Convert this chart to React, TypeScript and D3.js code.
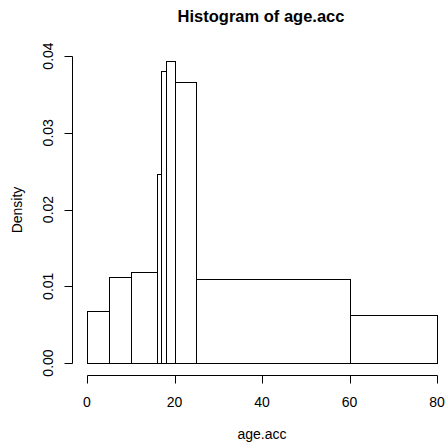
import React from "react";
import * as d3 from "d3";

const breaks = [0, 5, 10, 16, 17, 18, 20, 25, 60, 80];
const density = [0.0068, 0.0112, 0.0118, 0.0246, 0.0381, 0.0393, 0.0366, 0.011, 0.0062];
const xTicks = [0, 20, 40, 60, 80];
const yTicks = [0, 0.01, 0.02, 0.03, 0.04];
const yTickLabels = ["0.00", "0.01", "0.02", "0.03", "0.04"];
const title = "Histogram of age.acc";
const xLabel = "age.acc";
const yLabel = "Density";

export default function App() {
  const W = 445, H = 442;
  const x = d3.scaleLinear().domain([0, 80]).range([87, 437]);
  const y = d3.scaleLinear().domain([0, 0.04]).range([363, 56]);
  const font = "Liberation Sans, Arial, sans-serif";
  const bins = density.map((d, i) => ({ x0: breaks[i], x1: breaks[i + 1], d }));
  const axisY = 375.5;
  const axisX = 72.5;
  return (
    <svg width={W} height={H} style={{ position: "absolute", left: 0, top: 0, background: "#fff" }} fontFamily={font}>
      <rect width={W} height={H} fill="#fff" />
      <text x={261} y={22} textAnchor="middle" fontWeight="bold" fontSize={16.5} fill="#000">{title}</text>
      {bins.map((b, i) => (
        <rect key={i} x={Math.round(x(b.x0)) + 0.5} y={Math.round(y(b.d)) + 0.5}
          width={Math.round(x(b.x1)) - Math.round(x(b.x0))}
          height={Math.round(y(0)) - Math.round(y(b.d))}
          fill="none" stroke="#000" strokeWidth={1} />
      ))}
      <line x1={Math.round(x(0)) + 0.5} x2={Math.round(x(80)) + 0.5} y1={axisY} y2={axisY} stroke="#000" />
      {xTicks.map((t) => (
        <g key={t}>
          <line x1={Math.round(x(t)) + 0.5} x2={Math.round(x(t)) + 0.5} y1={axisY} y2={axisY + 8} stroke="#000" />
          <text x={x(t)} y={407} textAnchor="middle" fontSize={14} fill="#000">{t}</text>
        </g>
      ))}
      <text x={262} y={438.5} textAnchor="middle" fontSize={14} fill="#000">{xLabel}</text>
      <line x1={axisX} x2={axisX} y1={Math.round(y(0)) + 0.5} y2={Math.round(y(0.04)) + 0.5} stroke="#000" />
      {yTicks.map((t, i) => (
        <g key={t}>
          <line x1={axisX - 8} x2={axisX} y1={Math.round(y(t)) + 0.5} y2={Math.round(y(t)) + 0.5} stroke="#000" />
          <text transform={`translate(53,${y(t)}) rotate(-90)`} textAnchor="middle" fontSize={14} fill="#000">{yTickLabels[i]}</text>
        </g>
      ))}
      <text transform={`translate(22,210) rotate(-90)`} textAnchor="middle" fontSize={14} fill="#000">{yLabel}</text>
    </svg>
  );
}
